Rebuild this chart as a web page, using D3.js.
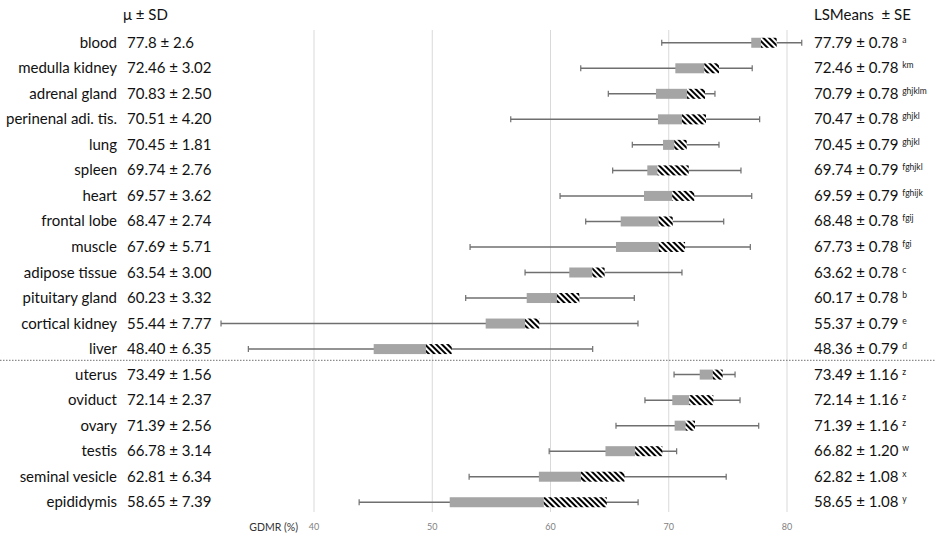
<!DOCTYPE html>
<html>
<head>
<meta charset="utf-8">
<script src="https://cdn.jsdelivr.net/npm/d3@7"></script>
<style>
  html, body { margin: 0; padding: 0; background: #fff; }
  svg { display: block; font-family: Lato, "Open Sans", sans-serif; }
  .grid line { stroke: #d9d9d9; stroke-width: 1; }
  .grid text { fill: #7f7f7f; font-size: 9px; }
  .lbl { font-size: 15px; fill: #111; }
  .sup { font-size: 8.5px; }
</style>
</head>
<body>
<div id="chart"></div>
<script>
// Tissue rows, top to bottom. The first 13 are common to both sexes,
// the last 6 are sex-specific (split by the dotted rule).
const tissues = [
  'blood', 'medulla kidney', 'adrenal gland', 'perinenal adi. tis.', 'lung',
  'spleen', 'heart', 'frontal lobe', 'muscle', 'adipose tissue',
  'pituitary gland', 'cortical kidney', 'liver',
  'uterus', 'oviduct', 'ovary', 'testis', 'seminal vesicle', 'epididymis',
];
const meanSd = [
  '77.8 ± 2.6', '72.46 ± 3.02', '70.83 ± 2.50', '70.51 ± 4.20', '70.45 ± 1.81',
  '69.74 ± 2.76', '69.57 ± 3.62', '68.47 ± 2.74', '67.69 ± 5.71', '63.54 ± 3.00',
  '60.23 ± 3.32', '55.44 ± 7.77', '48.40 ± 6.35',
  '73.49 ± 1.56', '72.14 ± 2.37', '71.39 ± 2.56', '66.78 ± 3.14', '62.81 ± 6.34', '58.65 ± 7.39',
];
const lsMeans = [77.79, 72.46, 70.79, 70.47, 70.45, 69.74, 69.59, 68.48, 67.73, 63.62, 60.17, 55.37, 48.36,
  73.49, 72.14, 71.39, 66.82, 62.82, 58.65];
const lsSe = [0.78, 0.78, 0.78, 0.78, 0.79, 0.79, 0.79, 0.78, 0.78, 0.78, 0.78, 0.79, 0.79,
  1.16, 1.16, 1.16, 1.20, 1.08, 1.08];
const letters = ['a', 'km', 'ghjklm', 'ghjkl', 'ghjkl', 'fghjkl', 'fghijk', 'fgij', 'fgi', 'c', 'b', 'e', 'd',
  'z', 'z', 'z', 'w', 'x', 'y'];

// Five-number summaries (GDMR %).
const minV = [69.45, 62.6, 64.93, 56.68, 66.96, 65.3, 60.85, 63.02, 53.24, 57.89, 52.87, 32.18, 34.49,
  70.49, 68.03, 65.58, 59.93, 53.16, 43.86];
const q1V = [77.02, 70.6, 68.96, 69.13, 69.56, 68.23, 67.95, 65.98, 65.58, 61.63, 58.03, 54.56, 45.09,
  72.66, 70.34, 70.54, 64.69, 59.06, 51.52];
const medV = [77.84, 73.05, 71.59, 71.16, 70.51, 69.1, 70.34, 69.19, 69.19, 63.58, 60.59, 57.89, 49.51,
  73.76, 71.78, 71.47, 67.2, 62.62, 59.48];
const q3V = [79.17, 74.29, 73.11, 73.19, 71.56, 71.73, 72.2, 70.38, 71.42, 64.62, 62.48, 59.1, 51.69,
  74.6, 73.81, 72.26, 69.5, 66.3, 64.8];
const maxV = [81.29, 77.1, 73.95, 77.73, 74.29, 76.15, 77.06, 74.69, 76.94, 71.16, 67.13, 67.44, 63.61,
  75.65, 76.07, 77.65, 70.71, 74.9, 67.45];

const xTicks = [40, 50, 60, 70, 80];
const splitAfter = 'liver';

const W = 941, H = 537;
const svg = d3.select('#chart').append('svg').attr('width', W).attr('height', H);

const defs = svg.append('defs');
const pat = defs.append('pattern')
  .attr('id', 'hatch')
  .attr('patternUnits', 'userSpaceOnUse')
  .attr('width', 4).attr('height', 4)
  .attr('patternTransform', 'rotate(-45)');
pat.append('rect').attr('width', 4).attr('height', 4).attr('fill', '#fff');
pat.append('rect').attr('width', 2).attr('height', 4).attr('fill', '#000');

const x = d3.scaleLinear().domain([40, 80]).range([313.5, 786.5]);
const y = d3.scaleBand().domain(tissues).range([30, 515]);
const yc = (t) => y(t) + y.bandwidth() / 2;

const gridTop = 30, gridBottom = 512;

// vertical gridlines + tick labels from the axis generator
svg.append('g')
  .attr('class', 'grid')
  .attr('transform', `translate(0,${gridBottom})`)
  .call(d3.axisBottom(x).tickValues(xTicks).tickSize(-(gridBottom - gridTop)).tickPadding(12))
  .call((g) => g.select('.domain').remove())
  .call((g) => g.selectAll('text').attr('font-family', 'Lato, sans-serif'));

svg.append('text')
  .attr('x', 298).attr('y', 531)
  .attr('text-anchor', 'end')
  .attr('font-size', 10.5)
  .attr('fill', '#333')
  .text('GDMR (%)');

// dotted rule between common and sex-specific tissues
const idx = tissues.indexOf(splitAfter);
const ySplit = y(tissues[idx + 1]) - 1.5;
svg.append('line')
  .attr('x1', 0).attr('x2', 936)
  .attr('y1', ySplit).attr('y2', ySplit)
  .attr('stroke', '#8c8c8c')
  .attr('stroke-width', 1.2)
  .attr('stroke-dasharray', '1.5,1.5');

const rows = tissues.map((t, i) => ({
  t, min: minV[i], q1: q1V[i], med: medV[i], q3: q3V[i], max: maxV[i],
  ms: meanSd[i], ls: lsMeans[i], se: lsSe[i], let: letters[i],
}));

const boxH = 10, capH = 6;
const row = svg.append('g').selectAll('g.row').data(rows).join('g').attr('class', 'row');

// whisker min..max with end caps
row.append('line')
  .attr('x1', (d) => x(d.min)).attr('x2', (d) => x(d.max))
  .attr('y1', (d) => yc(d.t)).attr('y2', (d) => yc(d.t))
  .attr('stroke', '#6f6f6f').attr('stroke-width', 1.5);
row.append('line')
  .attr('x1', (d) => x(d.min)).attr('x2', (d) => x(d.min))
  .attr('y1', (d) => yc(d.t) - capH / 2).attr('y2', (d) => yc(d.t) + capH / 2)
  .attr('stroke', '#6f6f6f').attr('stroke-width', 1.2);
row.append('line')
  .attr('x1', (d) => x(d.max)).attr('x2', (d) => x(d.max))
  .attr('y1', (d) => yc(d.t) - capH / 2).attr('y2', (d) => yc(d.t) + capH / 2)
  .attr('stroke', '#6f6f6f').attr('stroke-width', 1.2);

// lower half of box (Q1..median) solid grey, upper half (median..Q3) hatched
row.append('rect')
  .attr('x', (d) => x(d.q1)).attr('width', (d) => x(d.med) - x(d.q1))
  .attr('y', (d) => yc(d.t) - boxH / 2).attr('height', boxH)
  .attr('fill', '#a5a5a5');
row.append('rect')
  .attr('x', (d) => x(d.med)).attr('width', (d) => x(d.q3) - x(d.med))
  .attr('y', (d) => yc(d.t) - boxH / 2).attr('height', boxH)
  .attr('fill', 'url(#hatch)');

// left text columns
svg.append('text').attr('class', 'lbl').attr('x', 123).attr('y', 20).text('μ ± SD');
row.append('text').attr('class', 'lbl')
  .attr('x', 117).attr('y', (d) => yc(d.t) + 5)
  .attr('text-anchor', 'end')
  .text((d) => d.t);
row.append('text').attr('class', 'lbl')
  .attr('x', 127).attr('y', (d) => yc(d.t) + 5)
  .text((d) => d.ms);

// right column: LS means with significance letters
svg.append('text').attr('class', 'lbl').attr('x', 814).attr('y', 20).text('LSMeans  ± SE').style('white-space', 'pre');
const rt = row.append('text').attr('class', 'lbl')
  .attr('x', 814).attr('y', (d) => yc(d.t) + 5);
rt.append('tspan').text((d) => `${d.ls.toFixed(2)} ± ${d.se.toFixed(2)} `);
rt.append('tspan').attr('class', 'sup').attr('dy', -5).attr('fill', '#222').text((d) => d.let);
</script>
</body>
</html>
